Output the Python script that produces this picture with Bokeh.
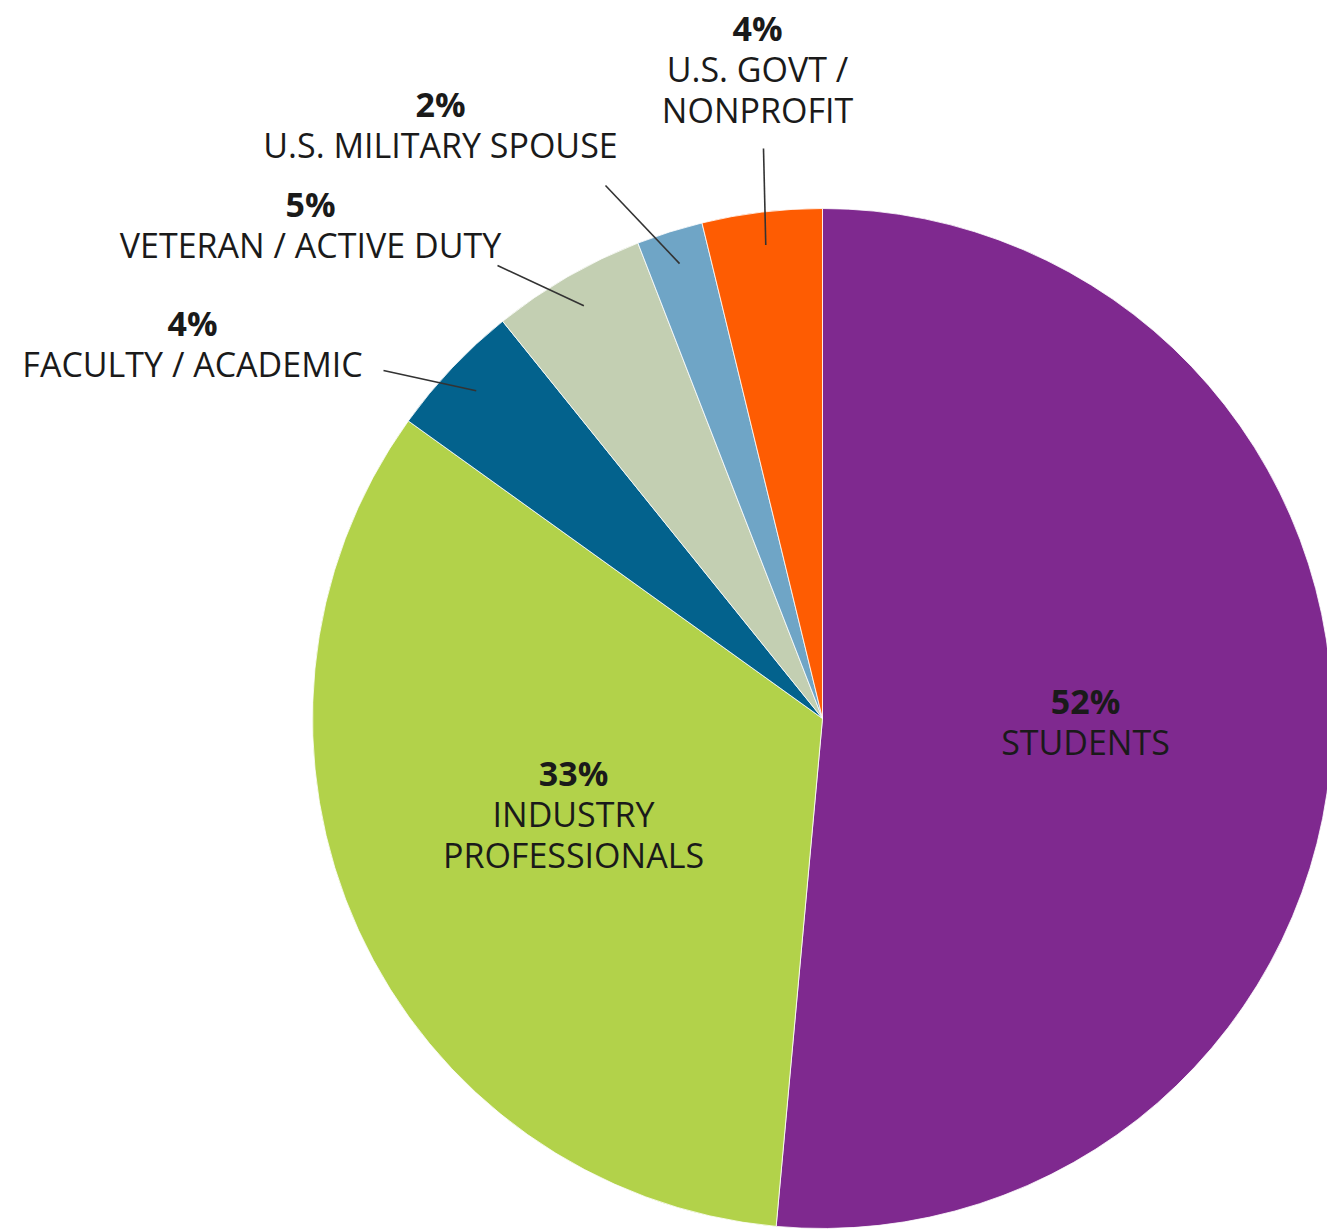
import math
from bokeh.plotting import figure
from bokeh.models import Range1d, ColumnDataSource
from bokeh.core.properties import value
from bokeh.embed import file_html
from bokeh.resources import INLINE

# ---- data ----
categories = ["STUDENTS", "INDUSTRY PROFESSIONALS", "FACULTY / ACADEMIC",
              "VETERAN / ACTIVE DUTY", "U.S. MILITARY SPOUSE", "U.S. GOVT / NONPROFIT"]
shares = [51.5, 33.5, 4.3, 4.9, 2.1, 3.8]          # slice sizes
pct_labels = ["52%", "33%", "4%", "5%", "2%", "4%"]
name_lines = [["STUDENTS"], ["INDUSTRY", "PROFESSIONALS"], ["FACULTY / ACADEMIC"],
              ["VETERAN / ACTIVE DUTY"], ["U.S. MILITARY SPOUSE"], ["U.S. GOVT /", "NONPROFIT"]]
colors = ["#7f298f", "#b2d24a", "#03628d", "#c3cfb2", "#6fa5c6", "#fe5c02"]

# ---- layout (screen pixels) ----
W, H = 1327, 1232
CX, CY, R = 822, 718, 510
# label anchor (centre of the percentage line) in screen pixels
label_pos = [(1085, 700), (573, 772), (192, 322), (310, 203), (440, 103), (757, 27)]
# outer end of leader lines (None = label inside slice)
leader_out = [None, None, (383, 370), (497, 265), (605, 185), (763, 148)]
LINE_GAP = 41
FONT = "Open Sans"
FS = "34px"

def sy(y):
    return H - y

p = figure(width=W, height=H, x_range=Range1d(0, W), y_range=Range1d(0, H),
           output_backend="svg", toolbar_location=None,
           x_axis_location=None, y_axis_location=None, min_border=0)
p.grid.visible = False
p.outline_line_color = None
p.background_fill_color = "white"
p.border_fill_color = "white"

total = sum(shares)
starts, ends, mids = [], [], []
c = 0.0
for s in shares:
    f0 = c / total
    c += s
    f1 = c / total
    starts.append(math.pi / 2 - f0 * 2 * math.pi)
    ends.append(math.pi / 2 - f1 * 2 * math.pi)
    mids.append(math.pi / 2 - (f0 + f1) / 2 * 2 * math.pi)

src = ColumnDataSource(dict(start=starts, end=ends, color=colors, name=categories))
p.wedge(x=CX, y=sy(CY), radius=R, start_angle="start", end_angle="end",
        direction="clock", fill_color="color", line_color="white", line_width=0.8, source=src)

# leader lines
for i, out in enumerate(leader_out):
    if out is None:
        continue
    r_in = 0.935 * R
    xi = CX + r_in * math.cos(mids[i])
    yi = sy(CY) + r_in * math.sin(mids[i])
    p.line([out[0], xi], [sy(out[1]), yi], line_color="#333333", line_width=1.6)

# labels
px, py, pt = [], [], []
nx, ny, nt = [], [], []
for i, (lx, ly) in enumerate(label_pos):
    px.append(lx); py.append(sy(ly)); pt.append(pct_labels[i])
    for k, ln in enumerate(name_lines[i]):
        nx.append(lx); ny.append(sy(ly + LINE_GAP * (k + 1))); nt.append(ln)

p.text(x=px, y=py, text=pt, text_font=value(FONT), text_font_size=FS,
       text_font_style="bold", text_align="center", text_baseline="middle",
       text_color="#1a1a1a")
p.text(x=nx, y=ny, text=nt, text_font=value(FONT), text_font_size=FS,
       text_align="center", text_baseline="middle", text_color="#1a1a1a")

open("out.html", "w").write(file_html(p, INLINE))
